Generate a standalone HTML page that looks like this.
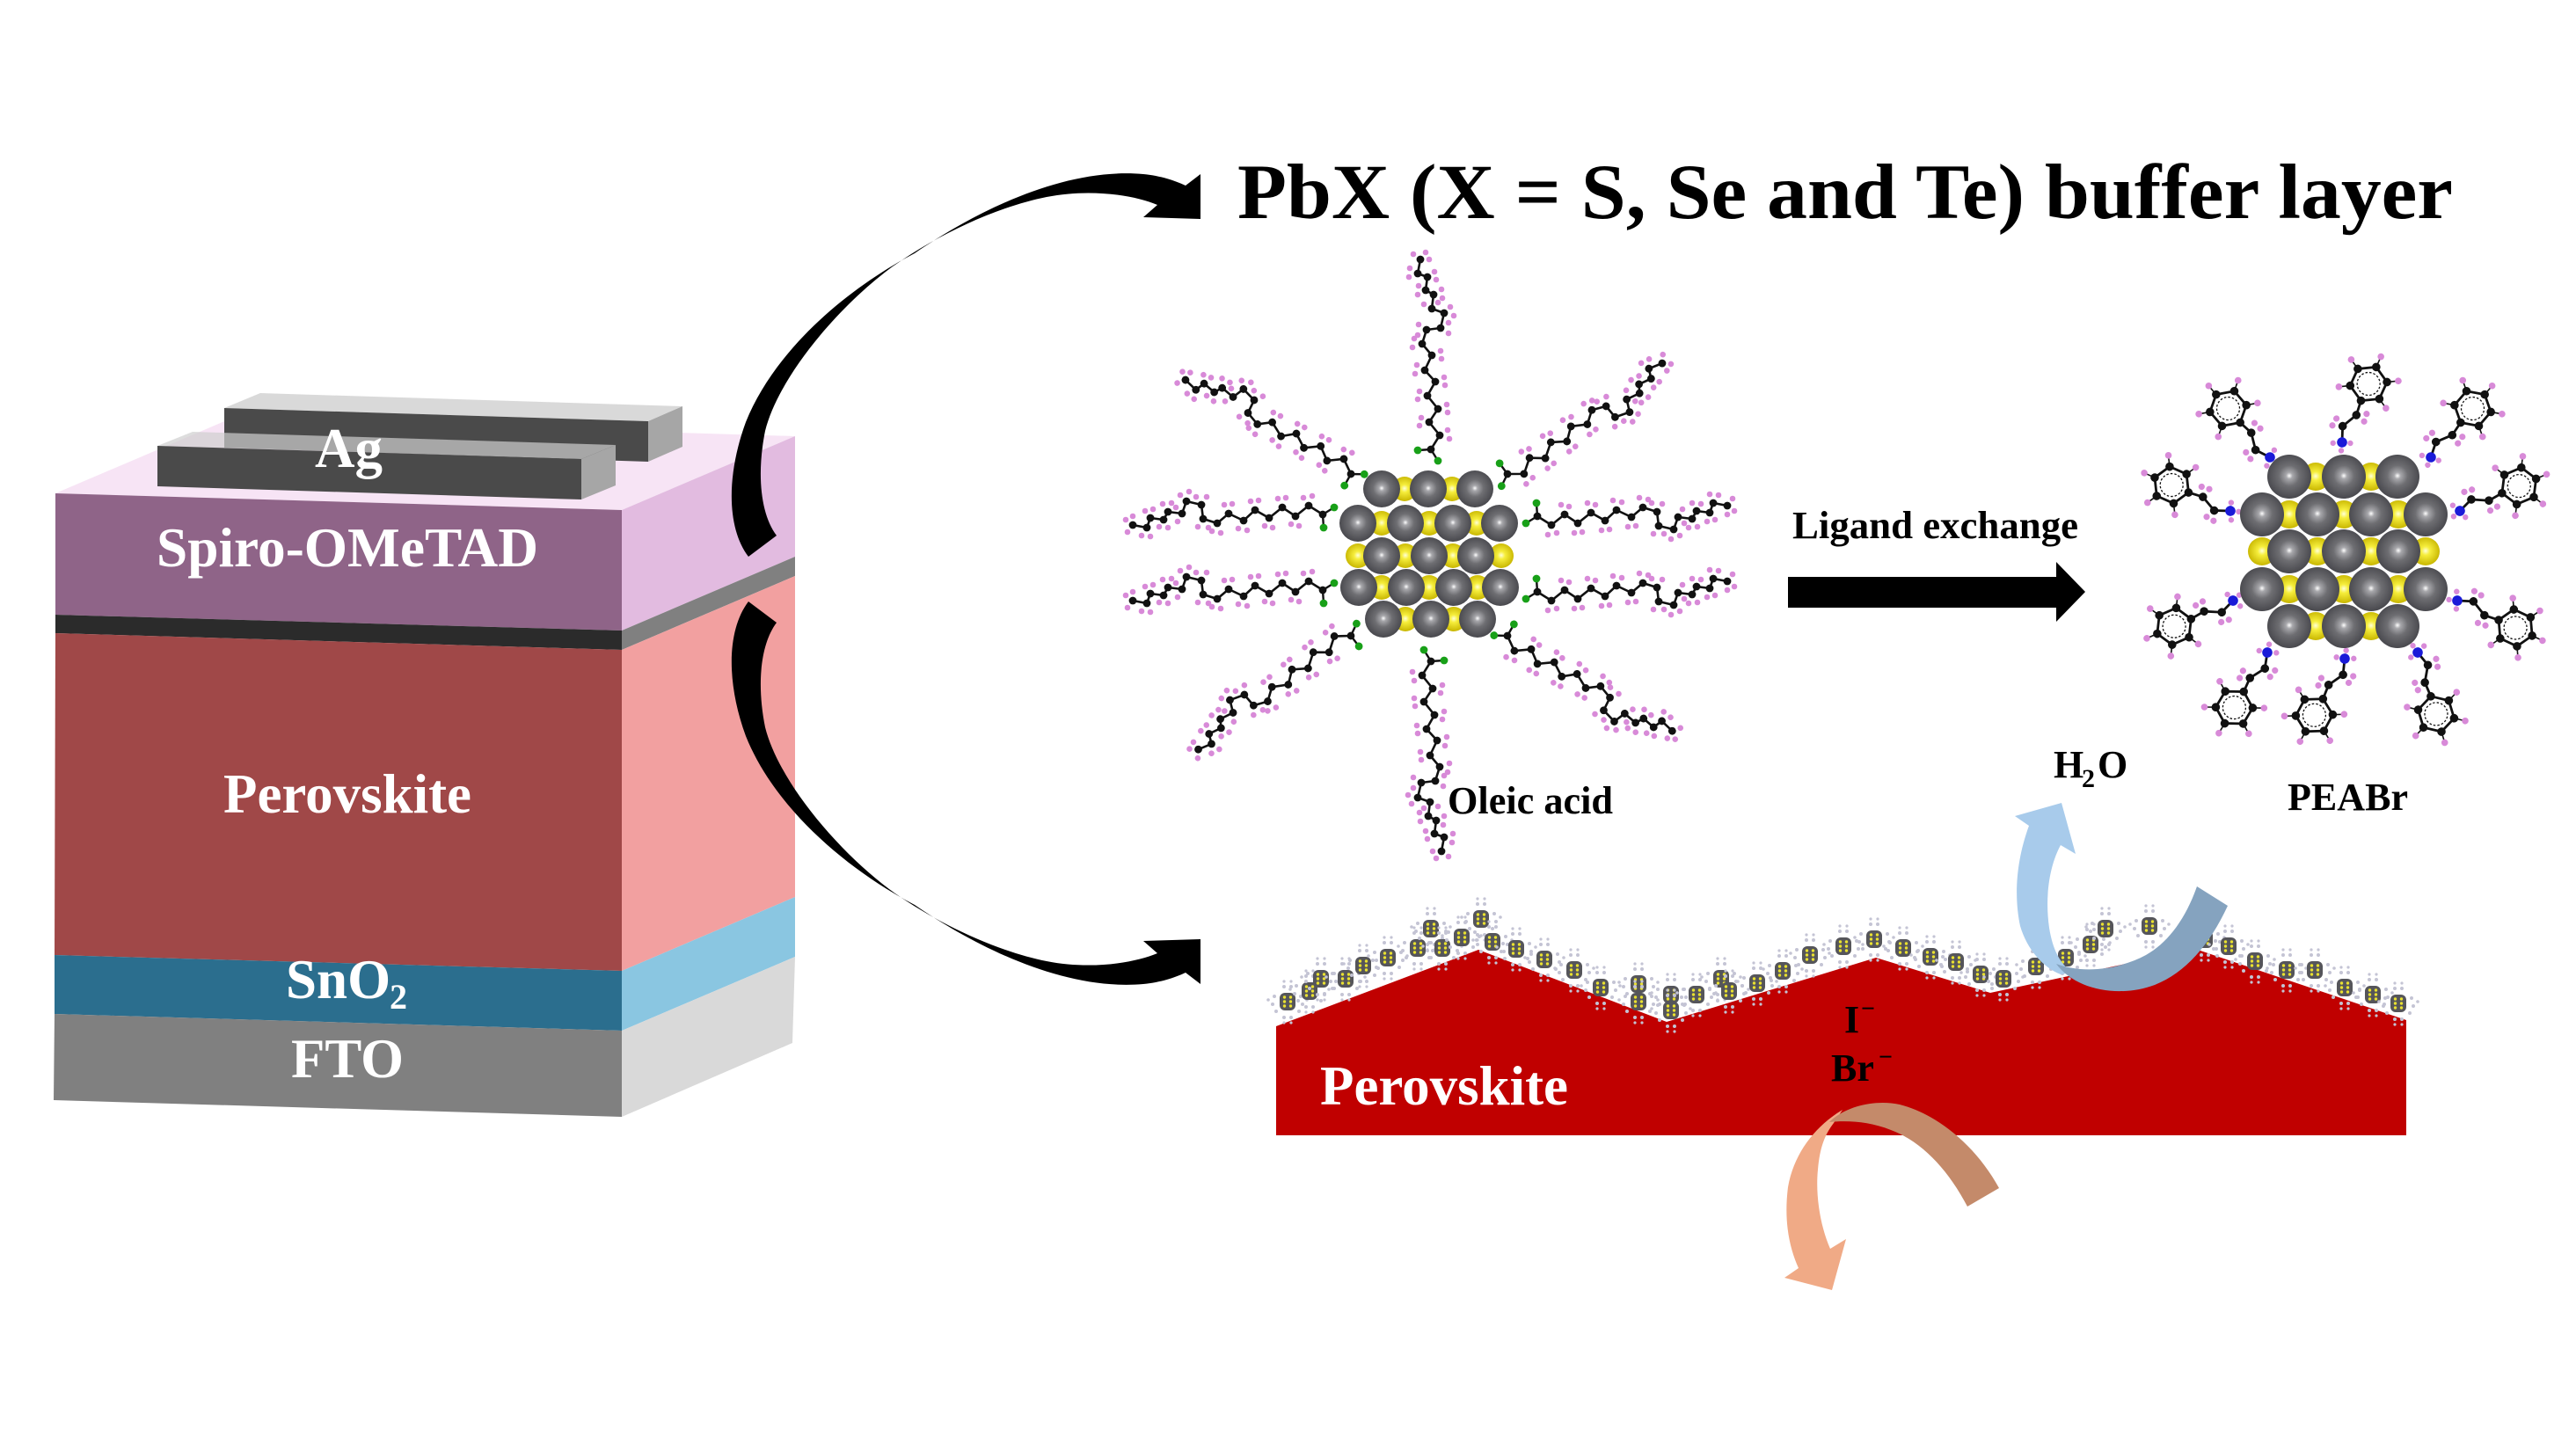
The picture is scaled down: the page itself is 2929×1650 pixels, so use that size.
<!DOCTYPE html>
<html><head><meta charset="utf-8"><style>
html,body{margin:0;padding:0;background:#fff;}
svg{display:block;}
text{font-family:"Liberation Serif","Times New Roman",serif;font-weight:bold;}
</style></head><body>
<svg xmlns="http://www.w3.org/2000/svg" width="2929" height="1650" viewBox="0 0 2929 1650">
<defs>
<radialGradient id="gs" cx="50%" cy="48%" r="52%">
<stop offset="0" stop-color="#ffffff"/><stop offset="0.14" stop-color="#a8a8ac"/><stop offset="0.45" stop-color="#6e6e72"/><stop offset="1" stop-color="#48484d"/>
</radialGradient>
<radialGradient id="ys" cx="50%" cy="48%" r="52%">
<stop offset="0" stop-color="#ffffd8"/><stop offset="0.3" stop-color="#f6ee3c"/><stop offset="1" stop-color="#c8b600"/>
</radialGradient>
<g id="ch">
<g fill="#d88ad8">
<circle cx="12" cy="21" r="3.3"/><circle cx="22" cy="19" r="3.3"/><circle cx="27" cy="-13" r="3.3"/><circle cx="36" cy="-11" r="3.3"/>
<circle cx="42" cy="19" r="3.3"/><circle cx="51" cy="18" r="3.3"/><circle cx="57" cy="-15" r="3.3"/><circle cx="66" cy="-13" r="3.3"/>
<circle cx="73" cy="16" r="3.3"/><circle cx="82" cy="15" r="3.3"/><circle cx="86" cy="-18" r="3.3"/><circle cx="96" cy="-16" r="3.3"/>
<circle cx="103" cy="12" r="3.3"/><circle cx="112" cy="11" r="3.3"/><circle cx="116" cy="-21" r="3.3"/><circle cx="126" cy="-19" r="3.3"/>
<circle cx="130" cy="-15" r="3.3"/><circle cx="142" cy="-14" r="3.3"/><circle cx="132" cy="20" r="3.3"/><circle cx="144" cy="20" r="3.3"/>
<circle cx="152" cy="26" r="3.3"/><circle cx="162" cy="22" r="3.3"/><circle cx="165" cy="-8" r="3.3"/><circle cx="167" cy="8" r="3.3"/>
<circle cx="172" cy="13" r="3.3"/><circle cx="182" cy="12" r="3.3"/><circle cx="186" cy="-14" r="3.3"/><circle cx="176" cy="-15" r="3.3"/>
<circle cx="193" cy="6" r="3.3"/><circle cx="202" cy="4" r="3.3"/><circle cx="196" cy="-25" r="3.3"/><circle cx="206" cy="-24" r="3.3"/>
<circle cx="222" cy="-20" r="3.3"/><circle cx="224" cy="-6" r="3.3"/><circle cx="216" cy="-2" r="3.3"/>
</g>
<polyline points="0,0 16,10 31,-2 46,8 61,-4 77,5 90,-7 107,1 120,-10 136,-5 138,11 155,15 160,1 176,3 181,-6 196,-4 200,-15 216,-12" fill="none" stroke="#111" stroke-width="2.6"/>
<polyline points="-1,-15 0,0 -13,8" fill="none" stroke="#111" stroke-width="2.4"/>
<g fill="#111">
<circle cx="0" cy="0" r="4.4"/><circle cx="16" cy="10" r="4.4"/><circle cx="31" cy="-2" r="4.4"/><circle cx="46" cy="8" r="4.4"/>
<circle cx="61" cy="-4" r="4.4"/><circle cx="77" cy="5" r="4.4"/><circle cx="90" cy="-7" r="4.4"/><circle cx="107" cy="1" r="4.4"/>
<circle cx="120" cy="-10" r="4.4"/><circle cx="136" cy="-5" r="4.4"/><circle cx="138" cy="11" r="4.4"/><circle cx="155" cy="15" r="4.4"/>
<circle cx="160" cy="1" r="4.4"/><circle cx="176" cy="3" r="4.4"/><circle cx="181" cy="-6" r="4.4"/><circle cx="196" cy="-4" r="4.4"/>
<circle cx="200" cy="-15" r="4.4"/><circle cx="216" cy="-12" r="4.4"/>
</g>
<g fill="#18a018"><circle cx="-1" cy="-15" r="4.4"/><circle cx="-13" cy="8" r="4.4"/></g>
</g>
<g id="pea">
<g stroke="#111" stroke-width="1.6">
<line x1="62.5" y1="-18.2" x2="56" y2="-29.4"/><line x1="83.5" y1="-18.2" x2="90" y2="-29.4"/><line x1="94" y1="0" x2="107" y2="0"/>
<line x1="83.5" y1="18.2" x2="90" y2="29.4"/><line x1="62.5" y1="18.2" x2="56" y2="29.4"/>
</g>
<g fill="#d88ad8">
<circle cx="56" cy="-29.4" r="3.8"/><circle cx="90" cy="-29.4" r="3.8"/><circle cx="107" cy="0" r="3.8"/><circle cx="90" cy="29.4" r="3.8"/><circle cx="56" cy="29.4" r="3.8"/>
<circle cx="13" cy="-18" r="3.6"/><circle cx="22" cy="-17" r="3.6"/><circle cx="32" cy="13" r="3.6"/><circle cx="41" cy="12" r="3.6"/>
<circle cx="-5" cy="-9" r="3.2"/><circle cx="-9" cy="3" r="3.2"/><circle cx="3" cy="9" r="3.2"/>
</g>
<polyline points="0,0 17,-7 35,2 52,0" fill="none" stroke="#111" stroke-width="2.8"/>
<polygon points="52,0 62.5,-18.2 83.5,-18.2 94,0 83.5,18.2 62.5,18.2" fill="none" stroke="#111" stroke-width="2.8"/>
<circle cx="73" cy="0" r="13" fill="none" stroke="#111" stroke-width="1.3" stroke-dasharray="2.5 2"/>
<g fill="#111">
<circle cx="17" cy="-7" r="4.8"/><circle cx="35" cy="2" r="4.8"/>
<circle cx="52" cy="0" r="4.8"/><circle cx="62.5" cy="-18.2" r="4.8"/><circle cx="83.5" cy="-18.2" r="4.8"/><circle cx="94" cy="0" r="4.8"/><circle cx="83.5" cy="18.2" r="4.8"/><circle cx="62.5" cy="18.2" r="4.8"/>
</g>
<circle cx="0" cy="0" r="5.8" fill="#1a1ad8"/>
</g>
<g id="nc">
<g fill="#c4c4d4">
<circle cx="-15" cy="-6" r="2"/><circle cx="15" cy="-6" r="2"/><circle cx="-17" cy="3" r="2"/><circle cx="17" cy="3" r="2"/>
<circle cx="-13" cy="11" r="2"/><circle cx="13" cy="11" r="2"/><circle cx="-4" cy="-17" r="2"/><circle cx="4" cy="-17" r="2"/>
<circle cx="-4" cy="18" r="2"/><circle cx="4" cy="18" r="2"/><circle cx="-22" cy="-2" r="1.8"/><circle cx="22" cy="-2" r="1.8"/>
<circle cx="-4" cy="-23" r="1.6"/><circle cx="4" cy="-23" r="1.6"/><circle cx="-4" cy="24" r="1.6"/><circle cx="4" cy="24" r="1.6"/>
</g>
<rect x="-9" y="-10" width="18" height="20" rx="6" fill="#55555a"/>
<g fill="#e8e030">
<circle cx="-3.5" cy="-5" r="1.7"/><circle cx="3.5" cy="-5" r="1.7"/><circle cx="-3.5" cy="0" r="1.7"/><circle cx="3.5" cy="0" r="1.7"/><circle cx="-3.5" cy="5" r="1.7"/><circle cx="3.5" cy="5" r="1.7"/>
</g>
</g>
</defs>

<rect width="2929" height="1650" fill="#fff"/>

<!-- Device stack -->
<polygon points="63,561 707,580 904,496 260,477" fill="#f7e4f5"/>
<polygon points="707,580 904,496 904,633 707,717" fill="#e2bbe0"/>
<polygon points="707,717 904,633 904,655 707,739" fill="#808080"/>
<polygon points="707,739 904,655 904,1020 707,1104" fill="#f2a0a0"/>
<polygon points="707,1104 904,1020 904,1088 707,1172" fill="#8ac6e1"/>
<polygon points="707,1172 904,1088 901,1186 707,1270" fill="#d9d9d9"/>
<polygon points="63,561 707,580 707,717 63,699" fill="#8f6488"/>
<polygon points="63,699 707,717 707,739 63,720" fill="#2b2b2b"/>
<polygon points="63,720 707,739 707,1104 62,1086" fill="#a04848"/>
<polygon points="62,1086 707,1104 707,1172 62,1153" fill="#2b6e8e"/>
<polygon points="62,1153 707,1172 707,1270 61,1251" fill="#808080"/>
<!-- Ag bars -->
<polygon points="255,464 296,447 776,462 737,479" fill="#d9d9d9"/>
<polygon points="737,479 776,462 776,508 737,525" fill="#a6a6a6"/>
<polygon points="255,464 737,479 737,525 255,509" fill="#4a4a4a"/>
<polygon points="179,507 219,491 700,506 661,522" fill="#cfcfcf" opacity="0.7"/>
<polygon points="661,522 700,506 700,552 661,568" fill="#a6a6a6"/>
<polygon points="179,507 661,522 661,568 179,553" fill="#4a4a4a"/>
<text x="358" y="531" font-size="63" fill="#fff">Ag</text>
<text x="178" y="644" font-size="63" fill="#fff" textLength="434" lengthAdjust="spacingAndGlyphs">Spiro-OMeTAD</text>
<text x="254" y="924" font-size="63" fill="#fff" textLength="282" lengthAdjust="spacingAndGlyphs">Perovskite</text>
<text x="325" y="1135" font-size="63" fill="#fff">SnO</text>
<text x="443" y="1147" font-size="40" fill="#fff">2</text>
<text x="331" y="1225" font-size="63" fill="#fff" textLength="128" lengthAdjust="spacingAndGlyphs">FTO</text>

<!-- big curved arrows -->
<path d="M851,633 C826,600 826,540 848,480 C880,400 960,330 1040,288 C1110,240 1210,190 1300,198 C1320,200 1335,205 1348,211 L1365,198 L1365,249 L1300,247 L1316,233 C1290,222 1240,214 1190,224 C1130,236 1060,270 1011,306 C950,352 885,430 870,490 C860,540 865,585 883,609 Z" fill="#000"/>
<path d="M851,633 C826,600 826,540 848,480 C880,400 960,330 1040,288 C1110,240 1210,190 1300,198 C1320,200 1335,205 1348,211 L1365,198 L1365,249 L1300,247 L1316,233 C1290,222 1240,214 1190,224 C1130,236 1060,270 1011,306 C950,352 885,430 870,490 C860,540 865,585 883,609 Z" fill="#000" transform="translate(0,1317) scale(1,-1)"/>

<text x="1407" y="248" font-size="89" fill="#000" textLength="1382" lengthAdjust="spacingAndGlyphs">PbX (X = S, Se and Te) buffer layer</text>

<!-- Oleic acid capped NC -->
<use href="#ch" transform="translate(1504,585) rotate(180)"/>
<use href="#ch" transform="translate(1504,671) rotate(180)"/>
<use href="#ch" transform="translate(1748,587)"/>
<use href="#ch" transform="translate(1748,673)"/>
<use href="#ch" transform="translate(1627,511) rotate(-90)"/>
<use href="#ch" transform="translate(1627,752) rotate(90)"/>
<use href="#ch" transform="translate(1536,539) rotate(212.8)"/>
<use href="#ch" transform="translate(1714,539) rotate(-32.4)"/>
<use href="#ch" transform="translate(1536,723) rotate(146.5)"/>
<use href="#ch" transform="translate(1714,723) rotate(33.2)"/>
<g fill="url(#ys)">
<circle cx="1597" cy="556" r="14"/><circle cx="1651" cy="556" r="14"/>
<circle cx="1571" cy="595" r="14"/><circle cx="1625" cy="595" r="14"/><circle cx="1679" cy="595" r="14"/>
<circle cx="1544" cy="632" r="14"/><circle cx="1598" cy="632" r="14"/><circle cx="1652" cy="632" r="14"/><circle cx="1707" cy="632" r="14"/>
<circle cx="1571" cy="668" r="14"/><circle cx="1625" cy="668" r="14"/><circle cx="1680" cy="668" r="14"/>
<circle cx="1598" cy="704" r="14"/><circle cx="1653" cy="704" r="14"/>
</g>
<g fill="url(#gs)">
<circle cx="1571" cy="556" r="21"/><circle cx="1624" cy="556" r="21"/><circle cx="1677" cy="556" r="21"/>
<circle cx="1544" cy="595" r="21"/><circle cx="1598" cy="595" r="21"/><circle cx="1652" cy="595" r="21"/><circle cx="1705" cy="595" r="21"/>
<circle cx="1571" cy="632" r="21"/><circle cx="1625" cy="632" r="21"/><circle cx="1678" cy="632" r="21"/>
<circle cx="1545" cy="668" r="21"/><circle cx="1599" cy="668" r="21"/><circle cx="1653" cy="668" r="21"/><circle cx="1706" cy="668" r="21"/>
<circle cx="1573" cy="704" r="21"/><circle cx="1627" cy="704" r="21"/><circle cx="1680" cy="704" r="21"/>
</g>
<text x="1646" y="925" font-size="44" fill="#000" textLength="188" lengthAdjust="spacingAndGlyphs">Oleic acid</text>

<text x="2038" y="612" font-size="44" fill="#000" textLength="325" lengthAdjust="spacingAndGlyphs">Ligand exchange</text>
<polygon points="2033,656 2338,656 2338,639 2371,673 2338,707 2338,691 2033,691" fill="#000"/>

<!-- PEABr capped NC -->
<use href="#pea" transform="translate(2663,503) rotate(-65.6)"/>
<use href="#pea" transform="translate(2581,520) rotate(229.4)"/>
<use href="#pea" transform="translate(2764,520) rotate(-49.4)"/>
<use href="#pea" transform="translate(2536,581) rotate(203.8)"/>
<use href="#pea" transform="translate(2797,581) rotate(-22.9)"/>
<use href="#pea" transform="translate(2539,683) rotate(156.4)"/>
<use href="#pea" transform="translate(2794,683) rotate(25.1)"/>
<use href="#pea" transform="translate(2578,742) rotate(121)"/>
<use href="#pea" transform="translate(2666,749) rotate(118.3)"/>
<use href="#pea" transform="translate(2749,742) rotate(73.3)"/>
<g fill="url(#ys)">
<circle cx="2633" cy="542" r="16"/><circle cx="2696" cy="542" r="16"/>
<circle cx="2603" cy="585" r="16"/><circle cx="2665" cy="585" r="16"/><circle cx="2727" cy="585" r="16"/>
<circle cx="2572" cy="627" r="16"/><circle cx="2635" cy="627" r="16"/><circle cx="2696" cy="627" r="16"/><circle cx="2758" cy="627" r="16"/>
<circle cx="2603" cy="670" r="16"/><circle cx="2665" cy="670" r="16"/><circle cx="2727" cy="670" r="16"/>
<circle cx="2633" cy="712" r="16"/><circle cx="2696" cy="712" r="16"/>
</g>
<g fill="url(#gs)">
<circle cx="2603" cy="542" r="25"/><circle cx="2665" cy="542" r="25"/><circle cx="2726" cy="542" r="25"/>
<circle cx="2572" cy="585" r="25"/><circle cx="2635" cy="585" r="25"/><circle cx="2696" cy="585" r="25"/><circle cx="2758" cy="585" r="25"/>
<circle cx="2603" cy="627" r="25"/><circle cx="2665" cy="627" r="25"/><circle cx="2727" cy="627" r="25"/>
<circle cx="2572" cy="670" r="25"/><circle cx="2635" cy="670" r="25"/><circle cx="2696" cy="670" r="25"/><circle cx="2758" cy="670" r="25"/>
<circle cx="2603" cy="712" r="25"/><circle cx="2665" cy="712" r="25"/><circle cx="2726" cy="712" r="25"/>
</g>
<text x="2601" y="921" font-size="44" fill="#000" textLength="137" lengthAdjust="spacingAndGlyphs">PEABr</text>

<text x="2335" y="884" font-size="44" fill="#000">H</text>
<text x="2367" y="895" font-size="30" fill="#000">2</text>
<text x="2385" y="884" font-size="44" fill="#000">O</text>

<!-- Perovskite film -->
<polygon points="1451,1291 1451,1167 1681,1080 1895,1162 2133,1089 2263,1129 2496,1079 2736,1160 2736,1291" fill="#c00000"/>
<g>
<use href="#nc" x="1464" y="1139"/><use href="#nc" x="1489" y="1127"/><use href="#nc" x="1502" y="1113"/><use href="#nc" x="1530" y="1113"/>
<use href="#nc" x="1550" y="1098"/><use href="#nc" x="1578" y="1089"/><use href="#nc" x="1612" y="1078"/><use href="#nc" x="1627" y="1056"/>
<use href="#nc" x="1640" y="1078"/><use href="#nc" x="1662" y="1066"/><use href="#nc" x="1684" y="1045"/><use href="#nc" x="1697" y="1071"/>
<use href="#nc" x="1724" y="1079"/><use href="#nc" x="1756" y="1091"/><use href="#nc" x="1790" y="1103"/><use href="#nc" x="1820" y="1123"/>
<use href="#nc" x="1863" y="1119"/><use href="#nc" x="1863" y="1139"/><use href="#nc" x="1900" y="1131"/><use href="#nc" x="1900" y="1149"/>
<use href="#nc" x="1929" y="1131"/><use href="#nc" x="1957" y="1113"/><use href="#nc" x="1966" y="1127"/><use href="#nc" x="1998" y="1118"/>
<use href="#nc" x="2027" y="1104"/><use href="#nc" x="2058" y="1086"/><use href="#nc" x="2096" y="1076"/><use href="#nc" x="2131" y="1068"/>
<use href="#nc" x="2164" y="1078"/><use href="#nc" x="2195" y="1088"/><use href="#nc" x="2224" y="1094"/><use href="#nc" x="2252" y="1108"/>
<use href="#nc" x="2278" y="1113"/><use href="#nc" x="2315" y="1099"/><use href="#nc" x="2349" y="1089"/><use href="#nc" x="2377" y="1074"/>
<use href="#nc" x="2394" y="1056"/><use href="#nc" x="2444" y="1053"/><use href="#nc" x="2507" y="1068"/><use href="#nc" x="2534" y="1076"/>
<use href="#nc" x="2564" y="1093"/><use href="#nc" x="2600" y="1103"/><use href="#nc" x="2632" y="1103"/><use href="#nc" x="2666" y="1123"/>
<use href="#nc" x="2698" y="1131"/><use href="#nc" x="2727" y="1141"/>
</g>
<text x="1501" y="1256" font-size="63" fill="#fff" textLength="282" lengthAdjust="spacingAndGlyphs">Perovskite</text>
<text x="2097" y="1174" font-size="44" fill="#000">I</text>
<text x="2116" y="1156" font-size="28" fill="#000">−</text>
<text x="2082" y="1229" font-size="44" fill="#000">Br</text>
<text x="2136" y="1211" font-size="28" fill="#000">−</text>

<!-- blue arrow -->
<path d="M2343,961 C2330,985 2325,1020 2330,1055 C2334,1080 2342,1095 2356,1106 L2343,1108 C2323,1100 2305,1080 2297,1053 C2290,1020 2292,980 2307,939 L2291,928 L2344,913 L2360,971 Z" fill="#a8cbeb"/>
<path d="M2338,1096 C2360,1126 2410,1135 2450,1120 C2485,1106 2512,1075 2533,1030 L2498,1008 C2485,1045 2465,1072 2440,1086 C2410,1102 2370,1108 2338,1096 Z" fill="#85a3bf"/>

<!-- orange arrow -->
<path d="M2095,1262 C2065,1280 2040,1310 2033,1350 C2028,1390 2035,1420 2045,1442 L2029,1453 L2083,1467 L2099,1409 L2081,1420 C2070,1395 2064,1360 2067,1330 C2069,1305 2075,1290 2085,1277 Z" fill="#f0aa86"/>
<path d="M2080,1276 C2098,1258 2132,1250 2160,1256 C2200,1266 2245,1300 2273,1351 L2237,1372 C2215,1330 2185,1298 2150,1285 C2125,1275 2100,1274 2080,1276 Z" fill="#c48a6a"/>
</svg>
</body></html>
